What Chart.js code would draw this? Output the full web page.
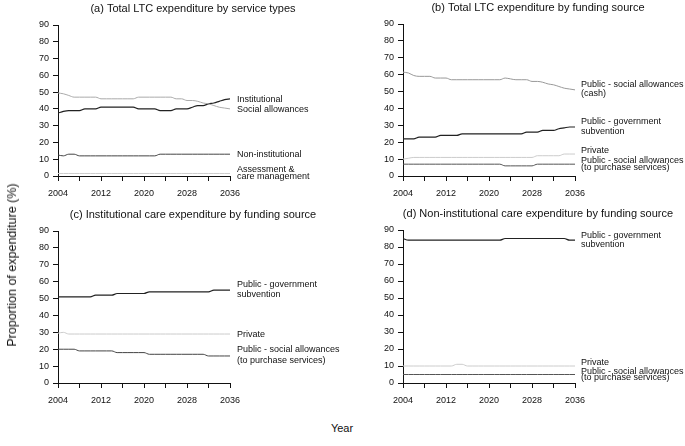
<!DOCTYPE html>
<html>
<head>
<meta charset="utf-8">
<script src="https://cdn.jsdelivr.net/npm/chart.js@4/dist/chart.umd.min.js"></script>
<style>
  body { margin: 0; background: #fff; width: 685px; height: 446px; position: relative; overflow: hidden; font-family: "Liberation Sans", Arial, sans-serif; }
  canvas { position: absolute; }
  #ylab { position: absolute; left: 12px; top: 265px; transform: translate(-50%, -50%) rotate(-90deg); font-size: 12.5px; white-space: nowrap; color: #111; }
  #xlab { position: absolute; left: 342px; top: 428px; transform: translate(-50%, -50%); font-size: 11px; color: #111; }
</style>
</head>
<body>
<canvas id="pa" width="342" height="200" style="left:0;top:0"></canvas>
<canvas id="pb" width="343" height="200" style="left:342px;top:0"></canvas>
<canvas id="pc" width="342" height="220" style="left:0;top:200px"></canvas>
<canvas id="pd" width="343" height="220" style="left:342px;top:200px"></canvas>
<div id="ylab">Proportion of expenditure (%)</div>
<div id="xlab">Year</div>
<script>
// years
const years = [2004,2005,2006,2007,2008,2009,2010,2011,2012,2013,2014,2015,2016,2017,2018,2019,2020,
  2021,2022,2023,2024,2025,2026,2027,2028,2029,2030,2031,2032,2033,2034,2035,2036];

// (a) by service types
const institutionalA = [37.5,38.5,39,39,39,40,40,40,41,41,41,41,41,41,41,40,40,40,40,39,39,39,40,40,40,41,42,42,43,43.5,44.5,45.5,46];
const socialAllowA = [49.5,49,48,47,47,47,47,47,46,46,46,46,46,46,46,47,47,47,47,47,47,47,46,46,45,45,44.5,43.5,43,42,41,40.5,40];
const nonInstA = [12.5,12,13,13,12,12,12,12,12,12,12,12,12,12,12,12,12,12,12,13,13,13,13,13,13,13,13,13,13,13,13,13,13];
const assessA = [1.5,1.5,1.5,1.5,1.5,1.5,1.5,1.5,1.5,1.5,1.5,1.5,1.5,1.5,1.5,1.5,1.5,1.5,1.5,1.5,1.5,1.5,1.5,1.5,1.5,1.5,1.5,1.5,1.5,1.5,1.5,1.5,1.5];

// (b) total by funding source
const cashB = [61.5,61,59.5,59,59,59,58,58,58,57,57,57,57,57,57,57,57,57,57,58,57.5,57,57,57,56,56,55.5,54.5,54,53,52,51.5,51];
const govB = [22,22,22,23,23,23,23,24,24,24,24,25,25,25,25,25,25,25,25,25,25,25,25,26,26,26,27,27,27,28,28.5,29,29];
const privB = [10,10.5,11,11,11,11,11,11,11,11,11,11,11,11,11,11,11,11,11,11,11,11,11,11,11,12,12,12,12,12,13,13,13];
const purchB = [7,7,7,7,7,7,7,7,7,7,7,7,7,7,7,7,7,7,7,6,6,6,6,6,6,7,7,7,7,7,7,7,7];

// (c) institutional care by funding source
const govC = [51,51,51,51,51,51,51,52,52,52,52,53,53,53,53,53,53,54,54,54,54,54,54,54,54,54,54,54,54,55,55,55,55];
const privC = [29.5,30,29,29,29,29,29,29,29,29,29,29,29,29,29,29,29,29,29,29,29,29,29,29,29,29,29,29,29,29,29,29,29];
const purchC = [20,20,20,20,19,19,19,19,19,19,19,18,18,18,18,18,18,17,17,17,17,17,17,17,17,17,17,17,16,16,16,16,16];

// (d) non-institutional care by funding source
const govD = [85,84,84,84,84,84,84,84,84,84,84,84,84,84,84,84,84,84,84,85,85,85,85,85,85,85,85,85,85,85,85,84,84];
const privD = [10,10,10,10,10,10,10,10,10,10,11,11,10,10,10,10,10,10,10,10,10,10,10,10,10,10,10,10,10,10,10,10,10];
const purchD = [5,5,5,5,5,5,5,5,5,5,5,5,5,5,5,5,5,5,5,5,5,5,5,5,5,5,5,5,5,5,5,5,5];

const FONT = '"Liberation Sans", Arial, sans-serif';

// title + right hand labels
const panelText = {
  id: 'panelText',
  afterDraw(chart) {
    const o = chart.options.plugins.panelText;
    const ctx = chart.ctx, a = chart.chartArea, ys = chart.scales.y;
    ctx.save();
    ctx.fillStyle = '#111';
    ctx.textBaseline = 'middle';
    ctx.font = '11px ' + FONT;
    ctx.textAlign = 'center';
    ctx.fillText(o.title, a.left + 135, a.top - 16);
    ctx.font = '9px ' + FONT;
    ctx.textAlign = 'left';
    o.notes.forEach(function (n) {
      ctx.fillText(n[0], a.right + o.dx, ys.getPixelForValue(n[1]));
    });
    ctx.restore();
  }
};

function panel(id, title, series, notes, pad, dx) {
  const sets = series.map(function (s) {
    return {
      data: s[0].map(function (v, i) { return {x: years[i], y: v}; }),
      borderColor: s[1],
      borderWidth: s[2] || 1,
      pointRadius: 0,
      fill: false,
      cubicInterpolationMode: 'monotone'
    };
  });
  return new Chart(document.getElementById(id), {
    type: 'line',
    data: {datasets: sets},
    options: {
      responsive: false,
      animation: false,
      devicePixelRatio: 1,
      layout: {padding: pad},
      plugins: {
        legend: {display: false},
        tooltip: {enabled: false},
        panelText: {title: title, notes: notes, dx: dx}
      },
      scales: {
        x: {
          type: 'linear', min: 2004, max: 2036,
          afterFit: function (s) { s.height = 22; },
          border: {display: true, color: '#111', width: 1},
          grid: {drawOnChartArea: false, drawTicks: true, tickLength: 5, color: '#111'},
          ticks: {
            stepSize: 4, padding: 7, color: '#111', maxRotation: 0, autoSkip: false,
            font: {family: FONT, size: 9},
            callback: function (v) { return (v - 2004) % 8 === 0 ? String(v) : ''; }
          }
        },
        y: {
          min: 0, max: 90,
          afterFit: function (s) { s.width = 30; },
          border: {display: true, color: '#111', width: 1},
          grid: {drawOnChartArea: false, drawTicks: true, tickLength: 5, color: '#111'},
          ticks: {stepSize: 10, padding: 4, color: '#111', font: {family: FONT, size: 9}}
        }
      }
    },
    plugins: [panelText]
  });
}

panel('pa', '(a) Total LTC expenditure by service types',
  [[socialAllowA, '#aaaaaa'], [institutionalA, '#222222', 1.2], [nonInstA, '#444444'], [assessA, '#cccccc']],
  [['Institutional', 45.8], ['Social allowances', 39.7], ['Non-institutional', 12.7],
   ['Assessment &', 3.8], ['care management', -0.6]],
  {left: 28, right: 112, top: 25, bottom: 2}, 7);

panel('pb', '(b) Total LTC expenditure by funding source',
  [[cashB, '#999999'], [govB, '#222222', 1.2], [privB, '#cccccc'], [purchB, '#555555']],
  [['Public - social allowances', 54.4], ['(cash)', 48.6], ['Public - government', 32], ['subvention', 26.6],
   ['Private', 14.9], ['Public - social allowances', 9.3], ['(to purchase services)', 5]],
  {left: 31, right: 110, top: 24, bottom: 2}, 6);

panel('pc', '(c) Institutional care expenditure by funding source',
  [[govC, '#222222', 1.2], [privC, '#cccccc'], [purchC, '#444444']],
  [['Public - government', 58.6], ['subvention', 52.5], ['Private', 28.8],
   ['Public - social allowances', 19.9], ['(to purchase services)', 13.6]],
  {left: 28, right: 112, top: 31, bottom: 15}, 7);

panel('pd', '(d) Non-institutional care expenditure by funding source',
  [[govD, '#222222', 1.2], [privD, '#cccccc'], [purchD, '#555555']],
  [['Public - government', 87], ['subvention', 81.3], ['Private', 11.8],
   ['Public - social allowances', 6.9], ['(to purchase services)', 3.3]],
  {left: 31, right: 110, top: 30, bottom: 15}, 6);
</script>
</body>
</html>
